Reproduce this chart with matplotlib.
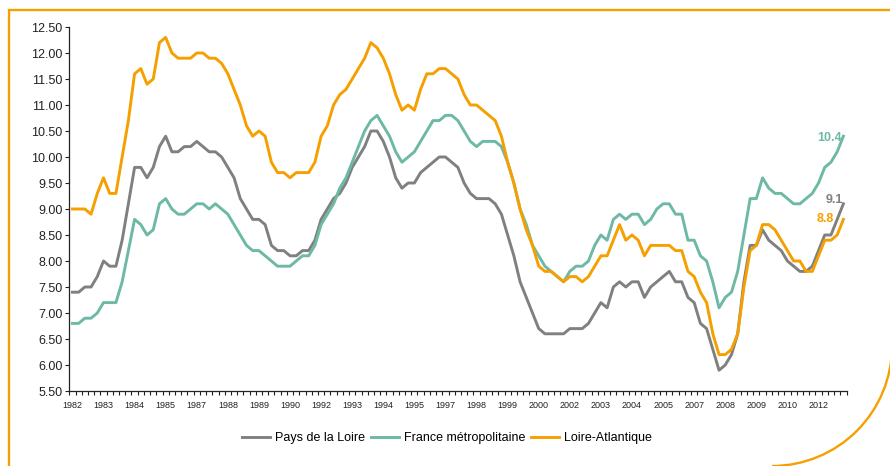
import matplotlib
matplotlib.use('Agg')
import matplotlib.pyplot as plt
from matplotlib.patches import Arc
import numpy as np

plt.rcParams['font.family'] = ['Liberation Sans', 'DejaVu Sans']

# quarterly unemployment rate, 1982 Q1 -> 2013 Q1
start_year = 1982
label_step = 5  # one label every 5 quarters, like the original

pays_de_la_loire = [
    7.4, 7.4, 7.5, 7.5, 7.7, 8.0, 7.9, 7.9, 8.4, 9.1, 9.8, 9.8, 9.6, 9.8, 10.2, 10.4, 10.1, 10.1, 10.2, 10.2, 10.3,
    10.2, 10.1, 10.1, 10.0, 9.8, 9.6, 9.2, 9.0, 8.8, 8.8, 8.7, 8.3, 8.2, 8.2, 8.1, 8.1, 8.2, 8.2, 8.4, 8.8, 9.0,
    9.2, 9.3, 9.5, 9.8, 10.0, 10.2, 10.5, 10.5, 10.3, 10.0, 9.6, 9.4, 9.5, 9.5, 9.7, 9.8, 9.9, 10.0, 10.0, 9.9, 9.8,
    9.5, 9.3, 9.2, 9.2, 9.2, 9.1, 8.9, 8.5, 8.1, 7.6, 7.3, 7.0, 6.7, 6.6, 6.6, 6.6, 6.6, 6.7, 6.7, 6.7, 6.8,
    7.0, 7.2, 7.1, 7.5, 7.6, 7.5, 7.6, 7.6, 7.3, 7.5, 7.6, 7.7, 7.8, 7.6, 7.6, 7.3, 7.2, 6.8, 6.7, 6.3, 5.9,
    6.0, 6.2, 6.6, 7.6, 8.3, 8.3, 8.6, 8.4, 8.3, 8.2, 8.0, 7.9, 7.8, 7.8, 7.9, 8.2, 8.5, 8.5, 8.8, 9.1,
]

france_metro = [
    6.8, 6.8, 6.9, 6.9, 7.0, 7.2, 7.2, 7.2, 7.6, 8.2, 8.8, 8.7, 8.5, 8.6, 9.1, 9.2, 9.0, 8.9, 8.9, 9.0, 9.1,
    9.1, 9.0, 9.1, 9.0, 8.9, 8.7, 8.5, 8.3, 8.2, 8.2, 8.1, 8.0, 7.9, 7.9, 7.9, 8.0, 8.1, 8.1, 8.3, 8.7, 8.9,
    9.1, 9.4, 9.6, 9.9, 10.2, 10.5, 10.7, 10.8, 10.6, 10.4, 10.1, 9.9, 10.0, 10.1, 10.3, 10.5, 10.7, 10.7, 10.8, 10.8, 10.7,
    10.5, 10.3, 10.2, 10.3, 10.3, 10.3, 10.2, 9.9, 9.5, 9.0, 8.7, 8.3, 8.1, 7.9, 7.8, 7.7, 7.6, 7.8, 7.9, 7.9, 8.0,
    8.3, 8.5, 8.4, 8.8, 8.9, 8.8, 8.9, 8.9, 8.7, 8.8, 9.0, 9.1, 9.1, 8.9, 8.9, 8.4, 8.4, 8.1, 8.0, 7.6, 7.1,
    7.3, 7.4, 7.8, 8.5, 9.2, 9.2, 9.6, 9.4, 9.3, 9.3, 9.2, 9.1, 9.1, 9.2, 9.3, 9.5, 9.8, 9.9, 10.1, 10.4,
]

loire_atlantique = [
    9.0, 9.0, 9.0, 8.9, 9.3, 9.6, 9.3, 9.3, 10.0, 10.7, 11.6, 11.7, 11.4, 11.5, 12.2, 12.3, 12.0, 11.9, 11.9, 11.9, 12.0,
    12.0, 11.9, 11.9, 11.8, 11.6, 11.3, 11.0, 10.6, 10.4, 10.5, 10.4, 9.9, 9.7, 9.7, 9.6, 9.7, 9.7, 9.7, 9.9, 10.4, 10.6,
    11.0, 11.2, 11.3, 11.5, 11.7, 11.9, 12.2, 12.1, 11.9, 11.6, 11.2, 10.9, 11.0, 10.9, 11.3, 11.6, 11.6, 11.7, 11.7, 11.6, 11.5,
    11.2, 11.0, 11.0, 10.9, 10.8, 10.7, 10.4, 9.9, 9.5, 9.0, 8.6, 8.3, 7.9, 7.8, 7.8, 7.7, 7.6, 7.7, 7.7, 7.6, 7.7,
    7.9, 8.1, 8.1, 8.4, 8.7, 8.4, 8.5, 8.4, 8.1, 8.3, 8.3, 8.3, 8.3, 8.2, 8.2, 7.8, 7.7, 7.4, 7.2, 6.6, 6.2,
    6.2, 6.3, 6.6, 7.5, 8.2, 8.3, 8.7, 8.7, 8.6, 8.4, 8.2, 8.0, 8.0, 7.8, 7.8, 8.1, 8.4, 8.4, 8.5, 8.8,
]

series = [
    ('Pays de la Loire', pays_de_la_loire, '#808080'),
    ('France métropolitaine', france_metro, '#6db9a6'),
    ('Loire-Atlantique', loire_atlantique, '#f5a000'),
]

n = len(pays_de_la_loire)
x = np.arange(n)
year_labels = [str(start_year + i // 4) for i in range(0, n, label_step)]

W, H = 890, 466
fig = plt.figure(figsize=(W / 100, H / 100), dpi=100)

# decorative orange frame (pixel coordinates, y pointing down)
deco = fig.add_axes([0, 0, 1, 1], zorder=0)
deco.set_xlim(0, W)
deco.set_ylim(H, 0)
deco.axis('off')
deco.plot([8.5, 8.5, W], [H, 10, 10], color='#f5a000', lw=1.7, solid_joinstyle='miter')
deco.add_patch(Arc((772, 346), 240, 240, theta1=0, theta2=90, color='#f5a000', lw=1.7))

ax = fig.add_axes([69.3 / W, 1 - 391 / H, (846.5 - 69.3) / W, (391 - 27) / H], zorder=1)
ax.patch.set_alpha(0)

for name, values, color in series:
    ax.plot(x, values, color=color, lw=2.1, label=name, solid_joinstyle='round')

# last values written next to the end of each line
ax.annotate(f"{france_metro[-1]:.1f}", (x[-1], france_metro[-1]), xytext=(-1, -1.5), textcoords='offset points',
            ha='right', va='center', color='#6db9a6', fontsize=9, fontweight='bold')
ax.annotate(f"{pays_de_la_loire[-1]:.1f}", (x[-1], pays_de_la_loire[-1]), xytext=(0, 2.5), textcoords='offset points',
            ha='right', va='center', color='#808080', fontsize=9, fontweight='bold')
ax.annotate(f"{loire_atlantique[-1]:.1f}", (x[-1], loire_atlantique[-1]), xytext=(-7, 0.5), textcoords='offset points',
            ha='right', va='center', color='#f5a000', fontsize=9, fontweight='bold')

ax.set_xlim(-0.5, n - 0.5)
ax.set_ylim(5.5, 12.5)
ax.set_yticks(np.arange(5.5, 12.51, 0.5))
ax.set_yticklabels([f"{v:.2f}" for v in np.arange(5.5, 12.51, 0.5)], fontsize=9, color='#222222')
ax.set_xticks(np.arange(0, n, label_step))
ax.set_xticklabels(year_labels, fontsize=6.5, color='#222222')
ax.set_xticks(np.arange(-0.5, n, 1), minor=True)
ax.tick_params(axis='x', which='major', length=0, pad=7)
ax.tick_params(axis='x', which='minor', length=3, width=0.8, color='#222222', direction='out')
ax.tick_params(axis='y', length=3, width=0.8, color='#222222', direction='out', pad=2)

for side in ['top', 'right']:
    ax.spines[side].set_visible(False)
for side in ['left', 'bottom']:
    ax.spines[side].set_color('#222222')
    ax.spines[side].set_linewidth(0.9)

fig.legend(loc='center', bbox_to_anchor=(447 / W, 1 - 438 / H), ncol=3, frameon=False,
           fontsize=9, handlelength=2.2, handletextpad=0.4, columnspacing=0.5)

fig.savefig('out.png', dpi=100)
plt.close()
